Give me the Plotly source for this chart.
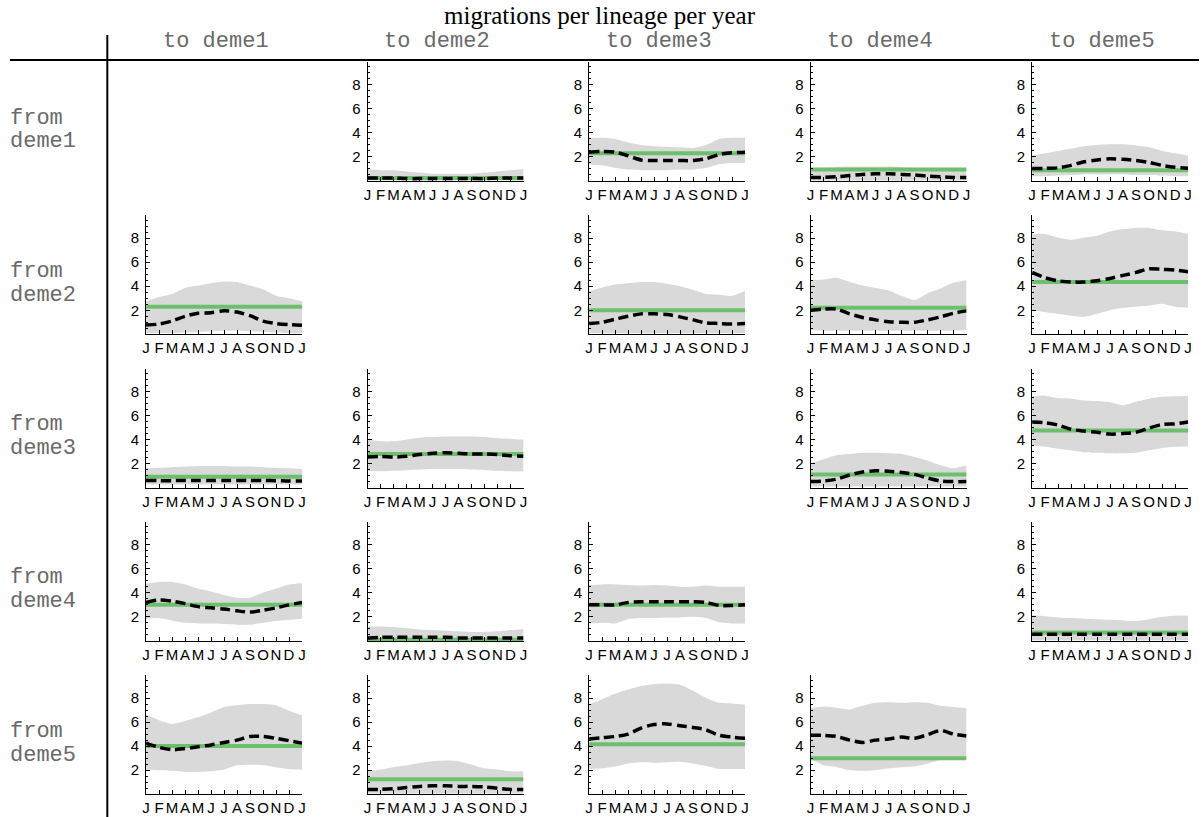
import plotly.graph_objects as go

# ---------------- data ----------------
months = ["J", "F", "M", "A", "M", "J", "J", "A", "S", "O", "N", "D", "J"]
month_pos = [0, 1, 2, 3, 4, 5, 6, 7, 8, 9, 10, 11, 12]
y_ticks = [2, 4, 6, 8]
demes = ["deme1", "deme2", "deme3", "deme4", "deme5"]
title_text = "migrations per lineage per year"

# from deme1
r12_const = 0.25
r12_median = [0.25, 0.25, 0.25, 0.2, 0.2, 0.2, 0.2, 0.2, 0.2, 0.2, 0.25, 0.25, 0.25]
r12_lower = [0.05, 0.05, 0.05, 0.05, 0.05, 0.05, 0.05, 0.05, 0.05, 0.05, 0.05, 0.05, 0.05]
r12_upper = [1.0, 0.9, 0.9, 0.8, 0.7, 0.6, 0.6, 0.6, 0.6, 0.7, 0.8, 0.9, 1.0]

r13_const = 2.3
r13_median = [2.4, 2.45, 2.4, 2.1, 1.75, 1.7, 1.7, 1.7, 1.7, 1.85, 2.2, 2.35, 2.4]
r13_lower = [1.4, 1.3, 1.1, 0.95, 0.9, 0.9, 0.9, 0.95, 0.95, 1.1, 1.4, 1.5, 1.5]
r13_upper = [3.6, 3.6, 3.5, 3.2, 3.0, 2.9, 2.85, 2.8, 2.75, 3.0, 3.5, 3.6, 3.6]

r14_const = 0.95
r14_median = [0.3, 0.3, 0.35, 0.45, 0.55, 0.6, 0.6, 0.55, 0.5, 0.4, 0.35, 0.3, 0.3]
r14_lower = [0.05, 0.05, 0.05, 0.05, 0.05, 0.05, 0.05, 0.05, 0.05, 0.05, 0.05, 0.05, 0.05]
r14_upper = [1.1, 1.1, 1.15, 1.2, 1.2, 1.2, 1.2, 1.15, 1.1, 1.05, 1.0, 1.0, 1.0]

r15_const = 0.9
r15_median = [1.05, 1.05, 1.1, 1.3, 1.6, 1.75, 1.85, 1.8, 1.7, 1.55, 1.3, 1.15, 1.05]
r15_lower = [0.4, 0.4, 0.45, 0.5, 0.55, 0.55, 0.55, 0.55, 0.5, 0.5, 0.45, 0.4, 0.4]
r15_upper = [2.1, 2.3, 2.5, 2.7, 2.9, 3.0, 3.05, 3.05, 2.95, 2.8, 2.5, 2.3, 2.1]

# from deme2
r21_const = 2.3
r21_median = [0.78, 0.85, 1.1, 1.5, 1.75, 1.8, 1.95, 1.85, 1.55, 1.1, 0.9, 0.8, 0.75]
r21_lower = [0.1, 0.1, 0.1, 0.15, 0.2, 0.25, 0.3, 0.3, 0.25, 0.2, 0.15, 0.1, 0.1]
r21_upper = [2.75, 3.1, 3.35, 3.85, 4.05, 4.25, 4.4, 4.35, 4.05, 3.75, 3.2, 3.0, 2.75]

r23_const = 2.0
r23_median = [0.9, 1.0, 1.25, 1.5, 1.7, 1.7, 1.65, 1.45, 1.2, 0.95, 0.9, 0.85, 0.9]
r23_lower = [0.08, 0.08, 0.08, 0.08, 0.08, 0.08, 0.08, 0.08, 0.08, 0.08, 0.08, 0.08, 0.08]
r23_upper = [3.6, 3.9, 4.15, 4.25, 4.35, 4.35, 4.2, 4.0, 3.7, 3.35, 3.3, 3.2, 3.6]

r24_const = 2.2
r24_median = [2.0, 2.1, 2.1, 1.7, 1.4, 1.2, 1.05, 1.0, 1.0, 1.2, 1.45, 1.75, 1.95]
r24_lower = [0.35, 0.3, 0.3, 0.3, 0.3, 0.3, 0.3, 0.3, 0.3, 0.3, 0.3, 0.3, 0.35]
r24_upper = [4.5, 4.55, 4.7, 4.35, 4.05, 3.85, 3.65, 3.2, 2.85, 3.4, 3.8, 4.3, 4.5]

r25_const = 4.35
r25_median = [5.15, 4.7, 4.45, 4.35, 4.35, 4.45, 4.65, 4.9, 5.15, 5.45, 5.4, 5.35, 5.2]
r25_lower = [2.05, 1.85, 1.7, 1.55, 1.45, 1.7, 2.0, 2.2, 2.3, 2.4, 2.55, 2.3, 2.2]
r25_upper = [8.35, 8.35, 8.05, 7.85, 8.05, 8.2, 8.55, 8.75, 8.85, 8.85, 8.65, 8.55, 8.35]

# from deme3
r31_const = 0.9
r31_median = [0.6, 0.58, 0.58, 0.6, 0.6, 0.6, 0.6, 0.6, 0.6, 0.6, 0.58, 0.55, 0.55]
r31_lower = [0.25, 0.25, 0.25, 0.25, 0.25, 0.25, 0.25, 0.25, 0.25, 0.25, 0.25, 0.25, 0.25]
r31_upper = [1.6, 1.65, 1.7, 1.75, 1.8, 1.8, 1.8, 1.75, 1.75, 1.7, 1.65, 1.6, 1.55]

r32_const = 2.8
r32_median = [2.55, 2.6, 2.55, 2.6, 2.75, 2.85, 2.9, 2.85, 2.8, 2.8, 2.75, 2.65, 2.6]
r32_lower = [1.4, 1.35, 1.4, 1.45, 1.5, 1.55, 1.55, 1.55, 1.5, 1.45, 1.4, 1.35, 1.35]
r32_upper = [4.0, 3.85, 3.85, 4.0, 4.15, 4.2, 4.25, 4.25, 4.25, 4.2, 4.1, 4.05, 4.0]

r34_const = 1.1
r34_median = [0.5, 0.55, 0.7, 1.05, 1.3, 1.4, 1.35, 1.25, 1.1, 0.8, 0.55, 0.5, 0.5]
r34_lower = [0.1, 0.1, 0.1, 0.1, 0.1, 0.1, 0.1, 0.1, 0.1, 0.1, 0.1, 0.1, 0.1]
r34_upper = [2.0, 2.35, 2.7, 2.8, 2.9, 2.9, 2.85, 2.8, 2.55, 2.25, 1.85, 1.6, 1.85]

r35_const = 4.75
r35_median = [5.45, 5.4, 5.2, 4.85, 4.7, 4.6, 4.45, 4.5, 4.6, 4.95, 5.25, 5.3, 5.45]
r35_lower = [3.5, 3.4, 3.25, 3.1, 2.95, 2.9, 2.85, 2.85, 2.9, 3.1, 3.3, 3.4, 3.45]
r35_upper = [7.6, 7.65, 7.45, 7.4, 7.25, 7.2, 7.1, 6.85, 7.15, 7.4, 7.55, 7.6, 7.65]

# from deme4
r41_const = 3.0
r41_median = [3.2, 3.4, 3.3, 3.1, 2.85, 2.75, 2.65, 2.5, 2.4, 2.55, 2.75, 3.0, 3.2]
r41_lower = [1.85, 1.9, 1.7, 1.5, 1.45, 1.45, 1.4, 1.35, 1.35, 1.5, 1.65, 1.75, 1.85]
r41_upper = [4.75, 4.9, 4.9, 4.7, 4.35, 4.1, 3.8, 3.6, 3.6, 4.0, 4.35, 4.7, 4.8]

r42_const = 0.1
r42_median = [0.25, 0.3, 0.3, 0.3, 0.3, 0.3, 0.3, 0.25, 0.25, 0.25, 0.25, 0.25, 0.25]
r42_lower = [0.02, 0.02, 0.02, 0.02, 0.02, 0.02, 0.02, 0.02, 0.02, 0.02, 0.02, 0.02, 0.02]
r42_upper = [1.2, 1.2, 1.15, 1.05, 0.95, 0.9, 0.85, 0.8, 0.75, 0.75, 0.8, 0.9, 1.0]

r43_const = 3.0
r43_median = [3.0, 3.0, 3.0, 3.2, 3.25, 3.25, 3.25, 3.25, 3.25, 3.2, 2.95, 2.95, 3.0]
r43_lower = [1.45, 1.5, 1.45, 1.8, 1.9, 1.9, 1.95, 1.95, 2.0, 1.9, 1.55, 1.45, 1.45]
r43_upper = [4.65, 4.7, 4.7, 4.65, 4.6, 4.65, 4.6, 4.5, 4.5, 4.6, 4.5, 4.5, 4.5]

r45_const = 0.7
r45_median = [0.55, 0.55, 0.55, 0.55, 0.55, 0.55, 0.55, 0.55, 0.55, 0.55, 0.55, 0.55, 0.55]
r45_lower = [0.05, 0.05, 0.05, 0.05, 0.05, 0.05, 0.05, 0.05, 0.05, 0.05, 0.05, 0.05, 0.05]
r45_upper = [2.15, 2.05, 1.95, 1.9, 1.85, 1.8, 1.75, 1.7, 1.65, 1.8, 2.0, 2.1, 2.1]

# from deme5
r51_const = 4.0
r51_median = [4.25, 3.9, 3.7, 3.8, 3.95, 4.1, 4.3, 4.5, 4.8, 4.8, 4.65, 4.45, 4.25]
r51_lower = [2.05, 2.0, 1.95, 1.85, 1.85, 1.9, 2.05, 2.4, 2.45, 2.4, 2.25, 2.1, 2.05]
r51_upper = [6.6, 6.15, 5.85, 6.1, 6.4, 6.8, 7.25, 7.4, 7.5, 7.5, 7.4, 6.95, 6.55]

r52_const = 1.25
r52_median = [0.4, 0.4, 0.45, 0.55, 0.65, 0.7, 0.7, 0.65, 0.65, 0.6, 0.5, 0.4, 0.4]
r52_lower = [0.05, 0.05, 0.05, 0.05, 0.05, 0.05, 0.05, 0.05, 0.05, 0.05, 0.05, 0.05, 0.05]
r52_upper = [1.9, 2.05, 2.25, 2.4, 2.6, 2.75, 2.8, 2.75, 2.45, 2.15, 2.05, 1.9, 1.9]

r53_const = 4.15
r53_median = [4.6, 4.7, 4.8, 5.0, 5.5, 5.8, 5.85, 5.7, 5.55, 5.35, 4.9, 4.75, 4.65]
r53_lower = [2.1, 2.15, 2.3, 2.55, 2.65, 2.6, 2.65, 2.7, 2.55, 2.35, 2.1, 2.1, 2.1]
r53_upper = [7.45, 7.9, 8.35, 8.7, 9.0, 9.15, 9.2, 9.1, 8.6, 8.0, 7.6, 7.55, 7.45]

r54_const = 3.0
r54_median = [4.9, 4.9, 4.8, 4.5, 4.3, 4.5, 4.6, 4.75, 4.65, 4.95, 5.3, 5.0, 4.85]
r54_lower = [3.0, 2.4, 2.25, 2.0, 1.95, 2.0, 2.15, 2.25, 2.3, 2.55, 2.85, 2.9, 3.0]
r54_upper = [7.15, 7.3, 7.2, 7.05, 7.35, 7.6, 7.65, 7.6, 7.65, 7.6, 7.35, 7.25, 7.15]

panels = {
    (1, 2): (r12_const, r12_median, r12_lower, r12_upper),
    (1, 3): (r13_const, r13_median, r13_lower, r13_upper),
    (1, 4): (r14_const, r14_median, r14_lower, r14_upper),
    (1, 5): (r15_const, r15_median, r15_lower, r15_upper),
    (2, 1): (r21_const, r21_median, r21_lower, r21_upper),
    (2, 3): (r23_const, r23_median, r23_lower, r23_upper),
    (2, 4): (r24_const, r24_median, r24_lower, r24_upper),
    (2, 5): (r25_const, r25_median, r25_lower, r25_upper),
    (3, 1): (r31_const, r31_median, r31_lower, r31_upper),
    (3, 2): (r32_const, r32_median, r32_lower, r32_upper),
    (3, 4): (r34_const, r34_median, r34_lower, r34_upper),
    (3, 5): (r35_const, r35_median, r35_lower, r35_upper),
    (4, 1): (r41_const, r41_median, r41_lower, r41_upper),
    (4, 2): (r42_const, r42_median, r42_lower, r42_upper),
    (4, 3): (r43_const, r43_median, r43_lower, r43_upper),
    (4, 5): (r45_const, r45_median, r45_lower, r45_upper),
    (5, 1): (r51_const, r51_median, r51_lower, r51_upper),
    (5, 2): (r52_const, r52_median, r52_lower, r52_upper),
    (5, 3): (r53_const, r53_median, r53_lower, r53_upper),
    (5, 4): (r54_const, r54_median, r54_lower, r54_upper),
}

# ---------------- layout ----------------
W, H = 1203, 817
COL_X0, COL_STEP, PANEL_W = 143, 223, 157
ROW_BASE, ROW_STEP, PANEL_H = 181, 153.3, 119
Y_MAX = 9.9

BAND = "#d9d9d9"
GREEN = "#6cc06c"
TICK_FONT = dict(family="Liberation Sans, Arial", size=15, color="#000")
MONO = "Liberation Mono, Courier New, monospace"


def fx(px):
    return px / W


def fy(py):
    return 1 - py / H


fig = go.Figure()
layout = dict(
    width=W, height=H,
    margin=dict(l=0, r=0, t=0, b=0),
    paper_bgcolor="white", plot_bgcolor="white",
    showlegend=False,
)

for k, ((fr, to), (const, med, lo, hi)) in enumerate(panels.items(), start=1):
    r, c = fr - 1, to - 1
    x0 = COL_X0 + COL_STEP * c
    x1 = x0 + PANEL_W
    yb = ROW_BASE + ROW_STEP * r
    yt = yb - PANEL_H
    xa = "x" if k == 1 else f"x{k}"
    ya = "y" if k == 1 else f"y{k}"
    xkey = "xaxis" if k == 1 else f"xaxis{k}"
    ykey = "yaxis" if k == 1 else f"yaxis{k}"

    fig.add_trace(go.Scatter(x=month_pos, y=lo, mode="lines", line=dict(width=0, shape="spline", smoothing=0.6),
                             hoverinfo="skip", xaxis=xa, yaxis=ya))
    fig.add_trace(go.Scatter(x=month_pos, y=hi, mode="lines", line=dict(width=0, shape="spline", smoothing=0.6),
                             fill="tonexty", fillcolor=BAND, hoverinfo="skip", xaxis=xa, yaxis=ya))
    fig.add_trace(go.Scatter(x=[month_pos[0], month_pos[-1]], y=[const, const], mode="lines",
                             line=dict(color=GREEN, width=4), xaxis=xa, yaxis=ya))
    fig.add_trace(go.Scatter(x=month_pos, y=med, mode="lines",
                             line=dict(color="black", width=3.5, dash="10px,5px", shape="spline", smoothing=0.8),
                             xaxis=xa, yaxis=ya))

    layout[xkey] = dict(
        domain=[fx(x0), fx(x1)], anchor=ya, range=[0, 12],
        tickmode="array", tickvals=month_pos, ticktext=months, tickangle=0,
        ticks="inside", ticklen=4, tickwidth=1, tickcolor="black",
        showline=True, linecolor="black", linewidth=1,
        showgrid=False, zeroline=False, tickfont=TICK_FONT, fixedrange=True,
    )
    layout[ykey] = dict(
        domain=[fy(yb), fy(yt)], anchor=xa, range=[0, Y_MAX],
        tickmode="array", tickvals=y_ticks, ticklabelstandoff=3,
        ticks="inside", ticklen=4, tickwidth=1, tickcolor="black",
        minor=dict(dtick=0.5, tick0=0, ticks="inside", ticklen=2, tickcolor="black", showgrid=False),
        showline=True, linecolor="black", linewidth=1,
        showgrid=False, zeroline=False, tickfont=TICK_FONT, fixedrange=True,
    )

annotations = [
    dict(text=title_text, xref="paper", yref="paper", x=fx(600), y=fy(16),
         xanchor="center", yanchor="middle", showarrow=False, borderpad=0,
         font=dict(family="Liberation Serif, Times New Roman", size=25, color="black")),
]
for c, d in enumerate(demes):
    annotations.append(dict(text="to " + d, xref="paper", yref="paper",
                            x=fx(213 + COL_STEP * c), y=fy(41),
                            xanchor="center", yanchor="middle", showarrow=False,
                            font=dict(family=MONO, size=22, color="#6a6a6a")))
for r, d in enumerate(demes):
    for line_txt, py in (("from", 118), (d, 142)):
        annotations.append(dict(text=line_txt, xref="paper", yref="paper",
                                x=fx(4), y=fy(py + ROW_STEP * r),
                                xanchor="left", yanchor="middle", showarrow=False,
                                font=dict(family=MONO, size=22, color="#6a6a6a")))
layout["annotations"] = annotations
layout["shapes"] = [
    dict(type="line", xref="paper", yref="paper", x0=fx(6), x1=1.0, y0=fy(60), y1=fy(60),
         line=dict(color="black", width=2)),
    dict(type="line", xref="paper", yref="paper", x0=fx(104), x1=fx(104), y0=fy(35), y1=0,
         line=dict(color="black", width=2)),
]
fig.update_layout(**layout)
# remove the browser's default 8px page margin so the figure fills the window exactly
fig.write_html("out.html",
               config={"displayModeBar": False},
               post_script="document.body.style.margin='0';document.body.style.padding='0';"
                           "document.body.style.overflow='hidden';")
